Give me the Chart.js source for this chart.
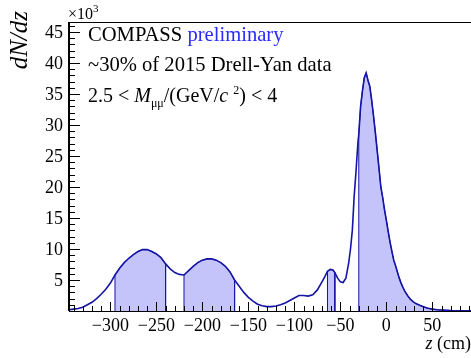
<!DOCTYPE html>
<html>
<head>
<meta charset="utf-8">
<script src="https://cdn.jsdelivr.net/npm/chart.js@4.4.0/dist/chart.umd.min.js"></script>
<style>
  html, body { margin: 0; padding: 0; background: #ffffff; }
  #wrap { width: 471px; height: 358px; position: relative; }
</style>
</head>
<body>
<div id="wrap"><canvas id="zChart"></canvas></div>
<script>
// z of the reconstructed vertex (cm)
const zValues = [
  -345, -340, -335, -330, -325, -320, -315, -310, -305, -300,
  -295, -290, -285, -280, -275, -270, -265, -260, -255, -250,
  -245, -240, -235, -230, -225, -220, -215, -210, -205, -200,
  -195, -190, -185, -180, -175, -170, -165, -160, -155, -150,
  -145, -140, -135, -130, -125, -120, -115, -110, -105, -100,
  -95, -90, -85, -80, -75, -70, -67, -64, -61, -58,
  -56, -53, -50, -47, -44, -41, -39, -37, -35, -33,
  -31, -30, -28, -26, -24, -22, -20, -18, -16, -14,
  -12, -10, -8, -6, -4, -2, 0, 2, 4, 6,
  8, 10, 12, 14, 16, 18, 20, 23, 26, 29,
  32, 35, 40, 45, 50, 55, 60, 70, 80, 92
];
// dN/dz (x10^3)
const counts = [
  0.2, 0.3, 0.4, 0.6, 1.0, 1.4, 2.0, 2.7, 3.5, 4.5,
  5.8, 6.9, 7.8, 8.5, 9.1, 9.6, 9.9, 9.9, 9.6, 9.2,
  8.6, 7.6, 6.8, 6.2, 5.9, 5.8, 6.5, 7.2, 7.8, 8.2,
  8.4, 8.4, 8.2, 7.8, 7.2, 6.3, 5.0, 4.0, 3.0, 2.2,
  1.6, 1.1, 0.85, 0.7, 0.7, 0.8, 1.0, 1.3, 1.7, 2.1,
  2.5, 2.5, 2.4, 2.6, 3.4, 4.7, 5.5, 6.4, 6.7, 6.6,
  6.2, 5.3, 4.7, 4.6, 5.3, 7.7, 10.0, 13.0, 18.5, 22.5,
  27.0, 28.5, 33.0, 35.5, 37.6, 38.4, 37.2, 36.2, 34.0, 31.5,
  28.8, 25.9, 23.0, 20.0, 18.3, 16.3, 14.6, 12.8, 11.1, 9.6,
  8.2, 7.3, 6.3, 5.3, 4.5, 3.8, 3.2, 2.5, 1.9, 1.5,
  1.2, 1.0, 0.7, 0.45, 0.3, 0.2, 0.15, 0.08, 0.05, 0.03
];
// z ranges drawn shaded
const shadedRanges = [[-295, -240], [-220, -165], [-64, -56], [-30, 92]];

const xMajorTicks = [-300, -250, -200, -150, -100, -50, 0, 50];
const yMajorTicks = [5, 10, 15, 20, 25, 30, 35, 40, 45];

const lineColor = "#1515a5";
const fillColor = "#c4c4fa";
const serif = "'Liberation Serif', 'DejaVu Serif', serif";

// main curve
const curvePoints = zValues.map((z, i) => ({ x: z, y: counts[i] }));

// shaded pieces, closed down to zero at both ends
const shadedSets = shadedRanges.map(([a, b]) => {
  const inside = curvePoints.filter((p) => p.x >= a && p.x <= b);
  return {
    data: [{ x: a, y: 0 }].concat(inside, [{ x: b, y: 0 }]),
    borderColor: lineColor,
    borderWidth: 1,
    backgroundColor: fillColor,
    fill: "origin",
    pointRadius: 0,
    tension: 0,
    order: 2,
  };
});

// draws the ROOT style frame, ticks and texts
const rootFrame = {
  id: "rootFrame",
  afterDatasetsDraw(chart) {
    const ctx = chart.ctx;
    const xs = chart.scales.x;
    const ys = chart.scales.y;
    const area = chart.chartArea;
    ctx.save();
    ctx.strokeStyle = "#000";
    ctx.fillStyle = "#000";

    // frame
    ctx.lineWidth = 2;
    ctx.beginPath();
    ctx.moveTo(area.left, area.top);
    ctx.lineTo(area.left, area.bottom);
    ctx.stroke();
    ctx.lineWidth = 1;
    ctx.beginPath();
    ctx.moveTo(area.left, area.top + 0.5);
    ctx.lineTo(area.right, area.top + 0.5);
    ctx.moveTo(area.left, area.bottom + 0.5);
    ctx.lineTo(area.right, area.bottom + 0.5);
    ctx.stroke();

    // y ticks, every 1, long ones every 5
    ctx.lineWidth = 1;
    ctx.beginPath();
    for (let v = 1; v <= ys.max; v++) {
      const y = Math.round(ys.getPixelForValue(v)) + 0.5;
      const len = v % 5 === 0 ? 11 : 6;
      ctx.moveTo(area.left, y);
      ctx.lineTo(area.left + len, y);
    }
    // x ticks, every 10, long ones every 50
    for (let v = -340; v <= xs.max; v += 10) {
      const x = Math.round(xs.getPixelForValue(v)) + 0.5;
      const len = v % 50 === 0 ? 9 : 5;
      ctx.moveTo(x, area.bottom);
      ctx.lineTo(x, area.bottom - len);
    }
    ctx.stroke();

    // tick labels
    ctx.font = "18px " + serif;
    ctx.textAlign = "right";
    ctx.textBaseline = "middle";
    yMajorTicks.forEach((v) => {
      ctx.fillText(String(v), area.left - 6, ys.getPixelForValue(v) + 1);
    });
    ctx.textAlign = "center";
    ctx.textBaseline = "alphabetic";
    xMajorTicks.forEach((v) => {
      const label = v < 0 ? "\u2212" + Math.abs(v) : String(v);
      ctx.fillText(label, xs.getPixelForValue(v), 331);
    });

    // exponent
    ctx.textAlign = "left";
    ctx.font = "16px " + serif;
    ctx.fillText("\u00d710", 68, 19);
    const w10 = ctx.measureText("\u00d710").width;
    ctx.font = "11px " + serif;
    ctx.fillText("3", 68 + w10, 12);

    // y title
    ctx.save();
    ctx.translate(27, 11);
    ctx.rotate(-Math.PI / 2);
    ctx.textAlign = "right";
    ctx.font = "italic 25px " + serif;
    ctx.fillText("dN/dz", 0, 0);
    ctx.restore();

    // x title
    ctx.textAlign = "right";
    ctx.font = "18px " + serif;
    const cmW = ctx.measureText(" (cm)").width;
    ctx.fillText(" (cm)", 471, 349);
    ctx.font = "italic 18px " + serif;
    ctx.fillText("z", 471 - cmW, 349);

    // text lines
    ctx.textAlign = "left";
    let x = 88;
    ctx.font = "20.6px " + serif;
    ctx.fillText("COMPASS ", x, 41);
    x += ctx.measureText("COMPASS ").width;
    ctx.fillStyle = "#2a2aff";
    ctx.fillText("preliminary", x, 41);
    ctx.fillStyle = "#000";
    ctx.fillText("~30% of 2015 Drell-Yan data", 88, 71);

    const parts = [
      ["2.5 < ", "20px", 0],
      ["M", "italic 20px", 0],
      ["\u03bc\u03bc", "12px", 5],
      ["/(GeV/", "20px", 0],
      ["c", "italic 20px", 0],
      [" ", "20px", 0],
      ["2", "12px", -8],
      [") < 4", "20px", 0],
    ];
    x = 88;
    parts.forEach(([t, f, dy]) => {
      ctx.font = f + " " + serif;
      ctx.fillText(t, x, 102 + dy);
      x += ctx.measureText(t).width;
    });
    ctx.restore();
  },
};

new Chart(document.getElementById("zChart"), {
  type: "line",
  data: {
    datasets: [
      {
        data: curvePoints,
        borderColor: lineColor,
        borderWidth: 1.6,
        pointRadius: 0,
        fill: false,
        tension: 0,
        order: 0,
      },
    ].concat(shadedSets),
  },
  options: {
    responsive: true,
    maintainAspectRatio: false,
    animation: false,
    layout: { padding: { left: 69, top: 22, right: 0, bottom: 47 } },
    plugins: { legend: { display: false }, tooltip: { enabled: false } },
    scales: {
      x: { type: "linear", min: -345, max: 92, display: false },
      y: { type: "linear", min: 0, max: 46.6, display: false },
    },
  },
  plugins: [rootFrame],
});
</script>
</body>
</html>
